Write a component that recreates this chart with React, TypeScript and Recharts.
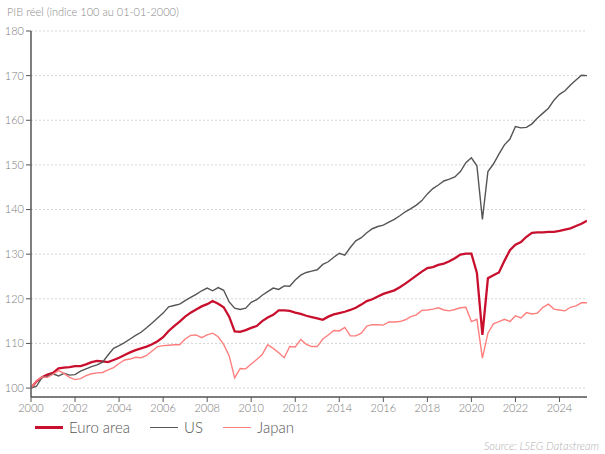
import React from 'react';
import { LineChart, Line, XAxis, YAxis, CartesianGrid } from 'recharts';

// Quarterly real GDP index, 100 = 01-01-2000, one row per year (Q4 prev .. Q3)
const START_YEAR = 2000;
const STEP = 0.25;

const euroArea = [
  100.0, 101.5, 102.4, 103.0,
  103.4, 104.4, 104.6, 104.7,
  104.9, 104.9, 105.3, 105.8,
  106.1, 106.0, 105.8, 106.3,
  106.8, 107.4, 108.0, 108.5,
  108.9, 109.3, 109.8, 110.5,
  111.4, 112.8, 113.9, 114.9,
  116.0, 116.9, 117.6, 118.3,
  118.8, 119.5, 118.9, 118.1,
  116.0, 112.7, 112.6, 113.0,
  113.5, 113.9, 115.0, 115.8,
  116.4, 117.4, 117.4, 117.3,
  116.9, 116.6, 116.2, 115.9,
  115.6, 115.3, 116.0, 116.5,
  116.8, 117.1, 117.5, 118.0,
  118.7, 119.5, 119.9, 120.5,
  121.1, 121.5, 121.9, 122.6,
  123.4, 124.3, 125.2, 126.1,
  126.9, 127.1, 127.6, 127.9,
  128.4, 129.1, 129.9, 130.1,
  130.1, 125.8, 111.9, 124.6,
  125.3, 125.9, 128.5, 130.9,
  132.1, 132.7, 133.9, 134.8,
  134.9, 134.9, 135.0, 135.0,
  135.2, 135.5, 135.8, 136.3,
  136.8, 137.5,
];

const us = [
  100.0, 100.4, 102.4, 102.6,
  103.2, 102.7, 103.3, 102.9,
  103.0, 103.8, 104.3, 104.8,
  105.2, 105.8, 107.4, 108.9,
  109.5, 110.2, 111.0, 111.8,
  112.5, 113.5, 114.6, 115.7,
  116.8, 118.2, 118.5, 118.8,
  119.6, 120.3, 121.0, 121.8,
  122.4, 121.8, 122.5, 121.9,
  119.3, 117.9, 117.6, 117.9,
  119.2, 119.8, 120.8, 121.6,
  122.4, 122.1, 122.9, 122.8,
  124.2, 125.3, 125.9, 126.2,
  126.5, 127.7, 128.3, 129.3,
  130.2, 129.8, 131.5, 133.0,
  133.7, 134.8, 135.7, 136.2,
  136.5, 137.2, 137.8, 138.6,
  139.5, 140.2, 141.0, 142.0,
  143.5, 144.7, 145.5, 146.4,
  146.8, 147.3, 148.5, 150.5,
  151.6, 149.8, 137.8, 148.5,
  150.2, 152.4, 154.5, 155.8,
  158.6, 158.3, 158.4, 159.2,
  160.5, 161.6, 162.7, 164.5,
  165.8, 166.6, 167.9, 169.0,
  170.1, 170.0,
];

const japan = [
  100.0, 101.6, 102.5, 102.4,
  103.1, 103.9, 103.3, 102.4,
  101.9, 102.1, 102.8, 103.2,
  103.4, 103.5, 104.1, 104.6,
  105.5, 106.3, 106.5, 106.9,
  106.8, 107.3, 108.3, 109.3,
  109.5, 109.6, 109.7, 109.7,
  111.0, 111.8, 111.9, 111.3,
  111.9, 112.3, 111.5, 109.8,
  107.2, 102.3, 104.4, 104.3,
  105.4, 106.4, 107.5, 109.7,
  108.9, 107.9, 106.8, 109.3,
  109.2, 110.9, 109.8, 109.3,
  109.3, 111.0, 111.9, 112.9,
  112.8, 113.6, 111.7, 111.7,
  112.3, 113.9, 114.2, 114.2,
  114.1, 114.8, 114.8, 114.9,
  115.3, 116.0, 116.4, 117.4,
  117.5, 117.7, 118.0, 117.5,
  117.3, 117.6, 118.0, 118.1,
  114.9, 115.4, 106.7, 112.3,
  114.4, 114.9, 115.4, 114.9,
  116.2, 115.7, 116.9, 116.6,
  116.8, 118.1, 118.8, 117.7,
  117.5, 117.3, 118.1, 118.4,
  119.1, 119.1,
];

const xTicks = [2000, 2002, 2004, 2006, 2008, 2010, 2012, 2014, 2016, 2018, 2020, 2022, 2024];
const yTicks = [100, 110, 120, 130, 140, 150, 160, 170, 180];

const seriesInfo = [
  { key: 'euro', name: 'Euro area', color: '#c8102e', width: 2.3 },
  { key: 'us', name: 'US', color: '#555555', width: 1.4 },
  { key: 'japan', name: 'Japan', color: '#ff7f7f', width: 1.4 },
];

const data = euroArea.map((v, i) => ({
  t: START_YEAR + i * STEP,
  euro: v,
  us: us[i],
  japan: japan[i],
}));

const FONT = 'Lato, "Open Sans", sans-serif';
const tickStyle = { fontSize: 11, fill: '#7a7a7a', fontFamily: FONT, fontWeight: 300 };

export default function App() {
  return (
    <div style={{ position: 'absolute', left: 0, top: 0, width: 605, height: 454, background: '#fff', fontFamily: FONT, fontWeight: 300 }}>
      <div style={{ position: 'absolute', left: 7, top: 5, fontSize: 11, lineHeight: '14px', color: '#8a8a8a' }}>
        PIB réel (indice 100 au 01-01-2000)
      </div>

      <LineChart width={605} height={454} data={data} margin={{ top: 31, right: 18, left: 0, bottom: 27 }}>
        <CartesianGrid vertical={false} stroke="#d6d6d6" strokeDasharray="2 2" />
        <XAxis
          dataKey="t"
          type="number"
          domain={[2000, 2025.25]}
          ticks={xTicks}
          height={30}
          tick={tickStyle}
          tickSize={5}
          axisLine={{ stroke: '#555', strokeWidth: 1.5 }}
          tickLine={{ stroke: '#555' }}
          allowDataOverflow
        />
        <YAxis
          type="number"
          domain={[98, 180]}
          ticks={yTicks}
          width={31}
          tick={tickStyle}
          tickSize={5}
          axisLine={{ stroke: '#555', strokeWidth: 1.5 }}
          tickLine={{ stroke: '#555' }}
          allowDataOverflow
        />
        {seriesInfo.map((s) => (
          <Line
            key={s.key}
            type="linear"
            dataKey={s.key}
            name={s.name}
            stroke={s.color}
            strokeWidth={s.width}
            dot={false}
            isAnimationActive={false}
          />
        ))}
      </LineChart>

      <div style={{ position: 'absolute', left: 35, top: 418, height: 18, display: 'flex', alignItems: 'center', fontSize: 15, color: '#555' }}>
        {seriesInfo.map((s) => (
          <div key={s.key} style={{ display: 'flex', alignItems: 'center', marginRight: 20 }}>
            <span style={{ display: 'inline-block', width: 28, height: 0, borderTop: `${s.key === 'euro' ? 3 : 1.5}px solid ${s.color}`, marginRight: 6 }} />
            <span>{s.name}</span>
          </div>
        ))}
      </div>

      <div style={{ position: 'absolute', right: 6, top: 439, fontSize: 11, lineHeight: '14px', fontStyle: 'italic', color: '#b0b0b0' }}>
        Source: LSEG Datastream
      </div>
    </div>
  );
}
